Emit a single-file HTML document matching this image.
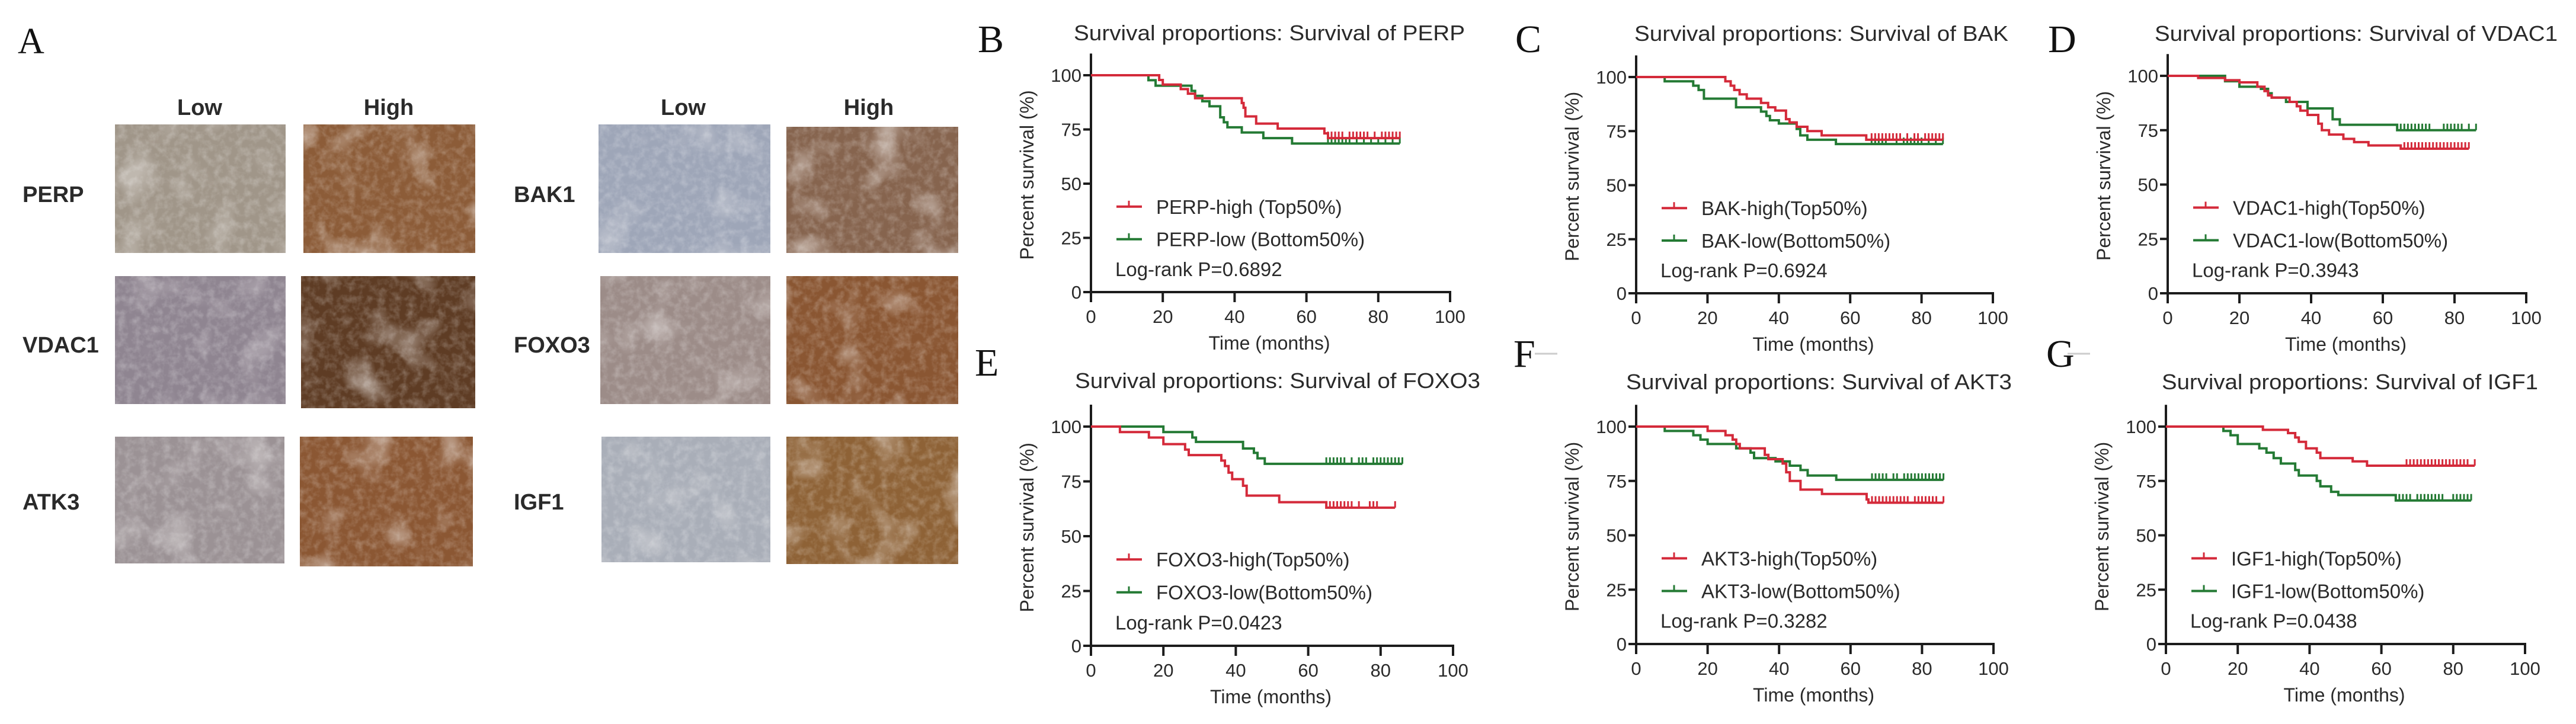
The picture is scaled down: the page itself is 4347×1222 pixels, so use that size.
<!DOCTYPE html>
<html><head><meta charset="utf-8"><title>Survival figure</title>
<style>
html,body{margin:0;padding:0;background:#fff;}
svg{display:block;}
.sans{font-family:"Liberation Sans",Arial,sans-serif;fill:#2a2a2a;}
.serif{font-family:"Liberation Serif","Times New Roman",serif;fill:#111;}
</style></head>
<body>
<svg id="fig" width="4347" height="1222" viewBox="0 0 4347 1222" xmlns="http://www.w3.org/2000/svg">
<defs>
<filter id="tex" x="0" y="0" width="100%" height="100%">
<feTurbulence type="fractalNoise" baseFrequency="0.08" numOctaves="3" seed="4"/>
<feColorMatrix type="matrix" values="0 0 0 0 1  0 0 0 0 1  0 0 0 0 1  0 0 0 1.4 -0.55"/>
</filter>
<filter id="tex2" x="0" y="0" width="100%" height="100%">
<feTurbulence type="fractalNoise" baseFrequency="0.015" numOctaves="2" seed="9"/>
<feColorMatrix type="matrix" values="0 0 0 0 0.95  0 0 0 0 0.93  0 0 0 0 0.92  0 0 0 3 -1.6"/>
</filter>
</defs>
<rect width="4347" height="1222" fill="#fff"/>

<!-- Panel A -->
<g id="panelA">
<text class="serif" x="30" y="90" font-size="62">A</text>
<g class="sans" font-weight="bold" font-size="38" text-anchor="middle">
<text x="337" y="194">Low</text>
<text x="656" y="194">High</text>
<text x="1153" y="194">Low</text>
<text x="1466" y="194">High</text>
</g>
<g class="sans" font-weight="bold" font-size="38" fill="#111">
<text x="38" y="341">PERP</text>
<text x="38" y="595">VDAC1</text>
<text x="38" y="860">ATK3</text>
<text x="867" y="341">BAK1</text>
<text x="867" y="595">FOXO3</text>
<text x="867" y="860">IGF1</text>
</g>
<g id="tiles"></g>
</g>

<g id="charts"></g>
</svg>

<script>
// ---------------- Data: survival step curves (time in months, survival %) ----------------
const xTicks = [0, 20, 40, 60, 80, 100];
const yTicks = [0, 25, 50, 75, 100];

const perpHighT = [0, 19, 20, 25, 27, 29, 42, 42.5, 43, 46, 52, 65, 66];
const perpHighS = [100, 97.8, 95.7, 93.6, 91.5, 89.4, 87.2, 85, 81, 77.7, 75.4, 73.2, 71];
const perpHighC = [66, 67, 68, 69, 70, 72, 73, 74, 75, 76, 77, 79, 81, 82, 83, 84, 85, 86];
const perpLowT = [0, 16, 18, 28, 29, 31, 33, 36, 37, 38, 42, 48, 56];
const perpLowS = [100, 97.7, 95.2, 92.8, 90.5, 88, 85.7, 80.6, 78.3, 76, 73.6, 71, 68.5];
const perpLowC = [66, 67, 68, 69, 70, 71, 72, 74, 76, 78, 80, 82, 84, 86];

const bakHighT = [0, 25, 26.5, 27.5, 29, 31, 35, 37, 39, 42, 43, 45, 48, 52, 64.5];
const bakHighS = [100, 98, 96, 94, 92, 90, 88, 86, 84.5, 80.5, 79, 77, 75, 73, 71];
const bakHighC = [66, 67, 68, 69, 70, 71, 72, 73, 74, 76, 78, 79, 81, 82, 83, 84, 85, 86];
const bakLowT = [0, 8, 16, 17.5, 19, 28, 35, 36.5, 37.5, 40, 45, 46, 48, 56];
const bakLowS = [100, 98, 96, 94, 90, 86, 84, 82, 80, 78.5, 76, 73, 71, 69];
const bakLowC = [66, 67, 68, 69, 70, 73, 75, 76, 77, 78, 79, 80, 82, 84, 86];

const vdacHighT = [0, 8.5, 16, 20, 25, 27, 28, 29, 34, 36, 37, 39, 42, 43, 45, 49, 52, 56, 65];
const vdacHighS = [100, 99, 98, 97, 95, 93, 91, 90, 88, 86, 84, 82, 78, 75, 73, 71, 69.5, 68, 66.5];
const vdacHighC = [66, 67, 68, 69, 70, 71, 72, 73, 74, 75, 76, 77, 78, 79, 80, 81, 82, 83, 84];
const vdacLowT = [0, 16, 20, 26, 28, 29, 33, 39, 46, 48, 64];
const vdacLowS = [100, 97.5, 95, 94, 92, 90, 88, 85, 80, 77.5, 75];
const vdacLowC = [65, 66, 67, 68, 69, 70, 71, 72, 73, 77, 78, 79, 80, 81, 82, 84, 86];

const foxoHighT = [0, 8, 16, 20, 26, 27, 36, 37, 38, 39, 42, 43, 52, 65];
const foxoHighS = [100, 97.5, 95, 92, 89.5, 87, 84.5, 82, 79, 76, 73, 68.5, 65.5, 63];
const foxoHighC = [65, 66, 67, 68, 69, 70, 71, 72, 74, 77, 78, 79, 84];
const foxoLowT = [0, 20, 28, 29, 42, 45, 46, 48];
const foxoLowS = [100, 97.5, 95, 93, 90, 88, 85.5, 83];
const foxoLowC = [65, 66, 67, 68, 69, 70, 72, 74, 75, 76, 78, 79, 80, 81, 82, 83, 84, 85, 86];

const aktHighT = [0, 20, 25, 27, 28, 29, 36, 37, 41, 42, 43, 46, 52, 64.5, 65];
const aktHighS = [100, 98, 96, 94, 92, 90, 87, 85, 83, 79, 75, 71, 69, 66.5, 65];
const aktHighC = [66, 67, 68, 69, 70, 71, 72, 73, 74, 75, 76, 78, 79, 80, 81, 82, 83, 84, 86];
const aktLowT = [0, 8, 16, 18, 20, 28, 32, 33, 39, 43, 46, 48, 56];
const aktLowS = [100, 98, 96, 94, 92, 90, 88, 85.5, 84, 82, 80, 77.5, 75.5];
const aktLowC = [66, 67, 68, 69, 70, 72, 73, 75, 76, 77, 78, 79, 80, 81, 82, 83, 84, 85, 86];

const igfHighT = [0, 27, 34, 36, 37, 39, 42, 43, 52, 56];
const igfHighS = [100, 98.5, 97, 95, 93, 90, 88, 85.5, 84, 82];
const igfHighC = [67, 68, 69, 70, 71, 72, 73, 74, 75, 76, 77, 78, 79, 80, 81, 82, 83, 84, 86];
const igfLowT = [0, 16, 18, 20, 26, 28, 30, 32, 36, 37, 42, 43, 46, 48, 64];
const igfLowS = [100, 98, 96, 92, 90, 88, 85.5, 83, 80, 77.5, 75, 72.5, 70, 68.5, 66];
const igfLowC = [65, 66, 67, 68, 70, 71, 72, 73, 74, 75, 76, 77, 80, 81, 82, 83, 84, 85];

const highEnd = [86, 86, 84, 84, 86, 86];
const lowEnd = [86, 86, 86, 86, 86, 85];
const pValues = ["0.6892", "0.6924", "0.3943", "0.0423", "0.3282", "0.0438"];
const genes = ["PERP", "BAK", "VDAC1", "FOXO3", "AKT3", "IGF1"];
const highLabels = ["PERP-high (Top50%)", "BAK-high(Top50%)", "VDAC1-high(Top50%)", "FOXO3-high(Top50%)", "AKT3-high(Top50%)", "IGF1-high(Top50%)"];
const lowLabels = ["PERP-low (Bottom50%)", "BAK-low(Bottom50%)", "VDAC1-low(Bottom50%)", "FOXO3-low(Bottom50%)", "AKT3-low(Bottom50%)", "IGF1-low(Bottom50%)"];

const seriesHigh = [[perpHighT, perpHighS, perpHighC], [bakHighT, bakHighS, bakHighC], [vdacHighT, vdacHighS, vdacHighC], [foxoHighT, foxoHighS, foxoHighC], [aktHighT, aktHighS, aktHighC], [igfHighT, igfHighS, igfHighC]];
const seriesLow = [[perpLowT, perpLowS, perpLowC], [bakLowT, bakLowS, bakLowC], [vdacLowT, vdacLowS, vdacLowC], [foxoLowT, foxoLowS, foxoLowC], [aktLowT, aktLowS, aktLowC], [igfLowT, igfLowS, igfLowC]];

// ---------------- Layout ----------------
const NS = "http://www.w3.org/2000/svg";
const layout = [
  {letter:"B", lx:1650, ly:88, x0:1841, x100:2447, y0:493, y100:127, tx:1812, tw:660, ty:68},
  {letter:"C", lx:2557, ly:88, x0:2761, x100:3363, y0:495, y100:130, tx:2758, tw:631, ty:69},
  {letter:"D", lx:3456, ly:88, x0:3658, x100:4263, y0:495, y100:128, tx:3636, tw:680, ty:69},
  {letter:"E", lx:1645, ly:634, x0:1841, x100:2452, y0:1090, y100:720, tx:1814, tw:684, ty:655},
  {letter:"F", lx:2554, ly:619, x0:2761, x100:3364, y0:1087, y100:720, tx:2744, tw:651, ty:657},
  {letter:"G", lx:3453, ly:619, x0:3655, x100:4261, y0:1087, y100:720, tx:3648, tw:635, ty:657}
];
const RED = "#d42a3a", GREEN = "#247a34", AX = "#1c1c1c";

function mk(tag, attrs, parent){
  const e = document.createElementNS(NS, tag);
  for (const k in attrs) e.setAttribute(k, attrs[k]);
  parent.appendChild(e);
  return e;
}

const charts = document.getElementById("charts");
layout.forEach((L, i) => {
  const sx = v => L.x0 + (L.x100 - L.x0) * v / 100;
  const sy = v => L.y0 + (L.y100 - L.y0) * v / 100;
  const g = mk("g", {}, charts);
  
  

  const lab = mk("text", {x:L.lx, y:L.ly, "font-size":66, class:"serif"}, g);
  lab.textContent = L.letter;
  
  
  if (L.letter === "F" || L.letter === "G") {
    const art = mk("line", {x1:L.lx + 36, x2:L.lx + 74, y1:L.ly - 22, y2:L.ly - 22, stroke:"#ccc", "stroke-width":3}, g);
    
    
  }

  const title = mk("text", {x:L.tx, y:L.ty, "font-size":36, class:"sans", textLength:L.tw, lengthAdjust:"spacingAndGlyphs"}, g);
  title.textContent = "Survival proportions: Survival of " + genes[i];
  
  

  // axes
  const ya = mk("line", {x1:L.x0, x2:L.x0, y1:L.y0 + 2, y2:sy(110), stroke:AX, "stroke-width":4}, g);
  
  
  const xa = mk("line", {x1:L.x0 - 2, x2:sx(100) + 2, y1:L.y0, y2:L.y0, stroke:AX, "stroke-width":4}, g);
  
  

  yTicks.forEach(v => {
    const t = mk("line", {x1:L.x0 - 13, x2:L.x0, y1:sy(v), y2:sy(v), stroke:AX, "stroke-width":4}, g);
    
    
    const tl = mk("text", {x:L.x0 - 16, y:sy(v) + 11, "font-size":31, "text-anchor":"end", class:"sans"}, g);
    tl.textContent = v;
    
    
  });
  xTicks.forEach(v => {
    const t = mk("line", {x1:sx(v), x2:sx(v), y1:L.y0, y2:L.y0 + 17, stroke:AX, "stroke-width":4}, g);
    
    
    const tl = mk("text", {x:sx(v), y:L.y0 + 52, "font-size":31, "text-anchor":"middle", class:"sans"}, g);
    tl.textContent = v;
    
    
  });
  const xt = mk("text", {x:(L.x0 + sx(100)) / 2 - 2, y:L.y0 + 97, "font-size":32, "text-anchor":"middle", class:"sans"}, g);
  xt.textContent = "Time (months)";
  
  
  const ycx = L.x0 - 97, ycy = sy(54);
  const yt = mk("text", {x:ycx, y:ycy, "font-size":32, "text-anchor":"middle", class:"sans", transform:`rotate(-90 ${ycx} ${ycy})`}, g);
  yt.textContent = "Percent survival (%)";
  
  

  // curves
  const drawSeries = (ser, end, color, nm) => {
    const [T, S, C] = ser;
    let d = `M${sx(T[0])},${sy(S[0])}`;
    for (let k = 1; k < T.length; k++) d += ` H${sx(T[k])} V${sy(S[k])}`;
    d += ` H${sx(end)}`;
    const p = mk("path", {d:d, fill:"none", stroke:color, "stroke-width":4, "stroke-linejoin":"miter"}, g);
    
    
    const last = S[S.length - 1];
    C.forEach(c => {
      const ct = mk("line", {x1:sx(c), x2:sx(c), y1:sy(last), y2:sy(last) - 11, stroke:color, "stroke-width":3}, g);
      
      
    });
  };
  drawSeries(seriesLow[i], lowEnd[i], GREEN, 'low-expression');
  drawSeries(seriesHigh[i], highEnd[i], RED, 'high-expression');

  // legend
  const legend = (pct, color, text, nm) => {
    const y = sy(pct);
    const lg = mk("g", {}, g);
    
    
    mk("line", {x1:L.x0 + 43, x2:L.x0 + 86, y1:y, y2:y, stroke:color, "stroke-width":4}, lg);
    mk("line", {x1:L.x0 + 64, x2:L.x0 + 64, y1:y, y2:y - 10, stroke:color, "stroke-width":3}, lg);
    const tx = mk("text", {x:L.x0 + 110, y:y + 12, "font-size":33, class:"sans"}, lg);
    tx.textContent = text;
  };
  legend(39.4, RED, highLabels[i], 'legend-entry-high');
  legend(24.4, GREEN, lowLabels[i], 'legend-entry-low');
  const pr = mk("text", {x:L.x0 + 41, y:sy(10.7) + 12, "font-size":33, class:"sans"}, g);
  pr.textContent = "Log-rank P=" + pValues[i];
  
  
});

// ---------------- Histology tiles ----------------
const tileNames = ["perp-low","perp-high","bak1-low","bak1-high","vdac1-low","vdac1-high","foxo3-low","foxo3-high","atk3-low","atk3-high","igf1-low","igf1-high"];
const tileFill = ["#a09689","#8c5c38","#9ea6b8","#86644e","#8f8591","#5e3c24","#9c8c88","#8a5632","#9b9295","#8b5733","#a9aeb8","#8e6236"];
const tileBox = [
  [194,210,288,217],[512,210,290,217],[1010,210,290,217],[1327,214,290,213],
  [194,466,288,216],[508,466,294,223],[1013,466,287,216],[1327,466,290,216],
  [194,737,286,214],[506,737,292,219],[1015,737,285,212],[1327,737,290,215]
];
const tiles = document.getElementById("tiles");
tileNames.forEach((n, i) => {
  const [x, y, w, h] = tileBox[i];
  const tg = mk("g", {}, tiles);
  
  
  mk("rect", {x:x, y:y, width:w, height:h, fill:tileFill[i]}, tg);
  mk("rect", {x:x, y:y, width:w, height:h, filter:"url(#tex2)", opacity: i % 2 ? 0.55 : 0.35}, tg);
  mk("rect", {x:x, y:y, width:w, height:h, filter:"url(#tex)", opacity:0.35}, tg);
});
</script>
</body></html>
